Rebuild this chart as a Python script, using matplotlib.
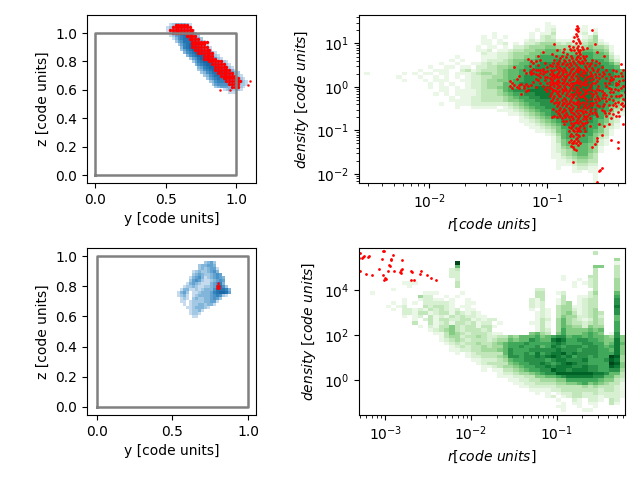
import numpy as np
import matplotlib
matplotlib.use('Agg')
import matplotlib.pyplot as plt
from matplotlib.colors import LinearSegmentedColormap

# histogram cell levels, rows from top to bottom, '.' = empty
top_hist = [
"..... ..... ..... ..... ..... ..... ..... ..... ..... .....",
"..... ..... ..... ..... ..... ..... ..... ..... ..... .....",
"..... ..... ..... ..... ..... ..... ..... 1.... ..... .....",
"..... ..... ..... ..... ..... ..... ..... 11... ..1.. .....",
"..... ..... ..... ..... ..... ..... ...1. 12... .11.1 .....",
"..... ..... ..... ..... ..... 1.... ..1.1 13... .12.2 .....",
"..... ..... ..... ..... ...1. 1.1.. ..1.2 32... 1.124 .....",
"..... ..... ..... ..... ...11 .1... .1212 33111 11234 1....",
"..... ..... ..... ..... ...11 .12.1 .2234 44323 22344 21...",
"..... ..... ..... ..... ..1.1 1.1.2 23444 55444 43454 431..",
"..... ..... ..... ..... ..112 .1123 34455 66655 55665 541..",
"..... ..... ..... ..... ...21 12234 44556 66666 66776 652..",
"..... ..... ..... ...1. ...11 12234 45567 77777 77776 6631.",
"..... ..... ..... ..1.1 ...12 22345 56677 77877 77777 7642.",
"..... ..... ..... 1..1. .1123 23345 66778 88888 88888 7764.",
"..... ..... ...1. .11.1 1.223 34456 67788 88888 88888 8776.",
"..... ..... .1..1 11..2 31233 34566 77888 88888 89888 88876",
".1... ...1. 1.11. 11.11 12344 34566 77888 88888 89988 88877",
"..... ..1.. .1..1 .1.1. 12233 44566 78888 88888 89998 88877",
"..... ...1. ..1.1 11..1 12234 45567 78888 88888 89998 88877",
"..... ..... ...1. 1.1.. 12234 44667 88888 88888 99998 88877",
"..... ..... ...1. 11.1. 12234 45677 78899 98888 99998 88777",
"..... ..... ..... 11.11 11233 34678 88999 98888 99998 87777",
"..... ..... ....1 .1.11 11233 34567 78899 98888 99998 87776",
"..... ..... ..... ..1.1 12233 33456 77889 98888 89998 87776",
"..... ..... ..... ..111 12233 33455 67788 88888 89998 87765",
"..... ..... ..... 1..11 12222 22234 56778 88888 89998 87754",
"..... ..... ..... ...1. .1111 1.123 45677 88888 89998 87543",
"..... ..... ..... ..... ..... .1112 34567 78888 88888 77532",
"..... ..... ..... ..... ..... ...11 23456 78888 88888 76421",
"..... ..... ..... ..... ..... ..... 12345 67888 88887 7542.",
"..... ..... ..... ..... ..... ..... 11234 56788 88887 6532.",
"..... ..... ..... ..... ..... ..... .1123 45678 88877 6431.",
"..... ..... ..... ..... ..... ..... ..112 34577 88877 5321.",
"..... ..... ..... ..... ..... ..... ...11 23567 78876 531..",
"..... ..... ..... ..... ..... ..... ..... 12467 77775 431..",
"..... ..... ..... ..... ..... ..... ..... .1367 77765 32...",
"..... ..... ..... ..... ..... ..... ..... .1356 67765 21...",
"..... ..... ..... ..... ..... ..... ..... .1256 66655 21...",
"..... ..... ..... ..... ..... ..... ..... .1245 66654 1....",
"..... ..... ..... ..... ..... ..... ..... .1234 56654 1....",
"..... ..... ..... ..... ..... ..... ..... .1134 56643 .....",
"..... ..... ..... ..... ..... ..... ..... .1123 45543 .....",
"..... ..... ..... ..... ..... ..... ..... ..112 34433 .....",
"..... ..... ..... ..... ..... ..... ..... ..111 23322 .....",
"..... ..... ..... ..... ..... ..... ..... ..1.. 12211 .....",
"..... ..... ..... ..... ..... ..... ..... ..... 11.11 .....",
"..... ..... ..... ..... ..... ..... ..... ..... ....1 .....",
"..... ..... ..... ..... ..... ..... ..... ..... ....1 .....",
"..... ..... ..... ..... ..... ..... ..... ..... ....1 .....",
]

bottom_hist = [
"..... ..... ..... ..... ..... ..... ..... ..... ..... .....",
"..... ..... ..... ..... ..... ..... ..... ..... ....3 .....",
"..... ..... ..... ..... ..... ..... ..... ..... ..... .....",
"..... ..... ..... ..... ..... ..... ..... ..... ..... ...4.",
"..... ..... ..... ...c. ..... ..... ..... ..... ..... ...1.",
"..... ..... ..... ...6. ..... ..... ..... ..... ....5 5..3.",
"..... ..... ..... ..23. ..... ..... ..... ..... ....3 ...3.",
"..... ..... ..... ..22. ..... ..... ..... ..... ....3 ...3.",
"..... ..... ..... ..22. ..... ..... ..... ...1. ...33 ...3.",
"..... ..... ..... ...2. ..... ..... ..... ...1. .1.23 ...4.",
"..... ...11 1.... ...3. ..... ..... ..... ..... 1.123 ...4.",
"..... ....1 ..... ...3. ..... ..... ..... ..... 1..23 ...4.",
"..... .1... ..... ..... ..... ..... ...22 ..... ....3 ...4.",
"..1.. ..... ..111 ....1 ..... ..... ...33 ..12. ...24 ...6.",
"..... ..... .422. .1.1. ..... ..... ...33 ...3. .1123 ...7.",
"..... ...1. .1221 1.1.. 1.... ..... ..213 ..13. .1233 ...8.",
"..... .1.1. 1.222 221.. 11... ..... ..212 ..134 .1233 ...8.",
"..... 1.12. ..323 321.1 1.... ..... ..212 ..344 11233 ...9.",
"..... .1.22 12132 3212. 11... ..... ..1.2 1.344 21234 ...8.",
"..... ...22 13312 33132 121.. ..... ...12 1.345 31234 3..8.",
"..... ...1. 12.31 21323 2211. ..... ...12 1.354 42234 2..6.",
"..... ..... 1.231 33223 31212 2.... ...13 2.464 32124 3..6.",
"..... ..... 3..31 23133 23122 .1... ..113 1.464 33234 3..7.",
"..... ..... .1.21 33532 33133 1.... ...13 1.465 44254 4..7.",
"..... ..... ...12 34532 33323 ..... ...13 2.475 55565 6..7.",
"..... ..... ....1 13543 23332 11... ..564 3.575 55676 5.18.",
"..... ..... ..... 13442 33432 23354 66675 67886 77676 65485",
"..... ..... ..... 12343 23332 34465 66876 69a97 78877 65595",
"..... ..... ..... .1232 33433 45677 78777 78987 77887 75696",
"..... ..... ..... ..123 23343 44677 87786 79878 88788 76795",
"..... ..... ..... ..112 23344 45687 77888 88988 87888 77695",
"..... ..... ..... ...1. 12333 33687 78797 899a8 98888 77795",
"..... ..... ..... ..... 12233 34588 78898 9a989 78878 77ba4",
"..... ..... ..... ..... .1122 23467 78888 78998 88977 78a94",
"..... ..... ..... ..... ..123 33356 77889 8789a 98877 77ba5",
"..... ..... ..... ..... ...11 23445 67788 98999 88988 77a95",
"..... ..... ..... ..... ...1. 11334 56778 8a998 99988 77884",
"..... ..... ..... ..... ..... .1223 44567 88aaa aaaa9 98663",
"..... ..... ..... ..... ..... .1112 23355 66789 99998 86643",
"..... ..... ..... ..... ..... ...11 22334 44557 77777 65532",
"..... ..... ..... ..... ..... ....1 12233 33445 56756 54331",
"..... ..... ..... ..... ..... ..... 11222 22333 33434 33321",
"..... ..... ..... ..... ..... ..... ..111 12233 33333 23321",
"..... ..... ..... ..... ..... ..... ...1. 1.122 33223 22221",
"..... ..... ..... ..... ..... ..... ..... 12.12 33222 12221",
"..... ..... ..... ..... ..... ..... ..... ..1.. 21.22 1.32.",
"..... ..... ..... ..... ..... ..... ..... ...1. 11.11 ..31.",
"..... ..... ..... ..... ..... ..... ..... ..11. .1..1 .....",
"..... ..... ..... ..... ..... ..... ..... ...1. ..11. .....",
"..... ..... ..... ..... ..... ..... ..... ..... ..... .....",
]

# projected gas map, top panel: z from 1.06 down in steps of 0.02
top_map = [
"..123 33321 ..... ..... ..... .....",
".1234 44332 ..... ..... ..... .....",
".1245 55443 1.... ..... ..... .....",
"..134 56654 32... ..... ..... .....",
"..124 56765 432.. ..... ..... .....",
"...13 56776 5432. ..... ..... .....",
"....2 45777 66431 ..... ..... .....",
"..... 24678 77542 1.... ..... .....",
"..... .3678 88653 21... ..... .....",
"..... .2467 88764 32... ..... .....",
"..... ..356 78876 5321. ..... .....",
"..... ...35 67887 65321 ..... .....",
"..... ....2 45788 76542 1.... .....",
"..... ..... 24678 87654 321.. .....",
"..... ..... .3567 88765 4321. .....",
"..... ..... ..346 78876 54321 .....",
"..... ..... ..235 67887 76543 1....",
"..... ..... ...23 56778 76654 32...",
"..... ..... ....2 35677 76654 321..",
"..... ..... ..... 24567 66554 4321.",
"..... ..... ..... .2356 66554 43321",
"..... ..... ..... ..245 55544 33221",
"..... ..... ..... ...23 44433 3321.",
"..... ..... ..... ..... .1232 221..",
"..... ..... ..... ..... ...11 1....",
]

top_red_map = [
"...## ###.. ..... ..... ..... .....",
"..### ####. ..... ..... ..... .....",
".#### ##### ..... ..... ..... .....",
"..### ##### ..... ..... ..... .....",
"..... ..### #.... ..... ..... .....",
"..... ...## ##... ..... ..... .....",
"..... ....# ##### ..... ..... .....",
"..... ....# ####. ..... ..... .....",
"..... ....# ##### ..... ..... .....",
"..... ..... ##### #.... ..... .....",
"..... ..... .#### ##... ..... .....",
"..... ..... ...## ##... ..... .....",
"..... ..... ...## ###.. ..... .....",
"..... ..... ..... ##### ..... .....",
"..... ..... ..... .#### #.... .....",
"..... ..... ..... ..### ##... .....",
"..... ..... ..... ..### ###.. .....",
"..... ..... ..... ...## ####. .....",
"..... ..... ..... ....# ##### .....",
"..... ..... ..... ..... ##### #....",
"..... ..... ..... ..... .#### ##...",
"..... ..... ..... ..... ..### #....",
"..... ..... ..... ..... ...## #....",
"..... ..... ..... ..... ..... .....",
"..... ..... ..... ..... ..... .....",
]
top_stray_y = [0.887, 0.957, 1.097, 1.085]
top_stray_z = [0.60, 0.60, 0.664, 0.633]

# bottom panel: z from 0.96 down in steps of 0.02
bottom_map = [
"..... ....2 342.. ...",
"..... ..233 443.. ...",
"..... ..232 3441. ...",
"..... 12322 3453. ...",
"..... 23432 23454 ...",
"....1 34531 23454 3..",
"....2 45421 12345 4..",
"...13 43211 13456 3..",
"..122 32112 23467 52.",
".1331 12123 33577 763",
"1342. 11233 34678 874",
"1231. 12333 34565 21.",
".121. 23223 34542 ...",
".11.1 22223 3441. ...",
"..1.1 22332 331.. ...",
"...11 23332 1.... ...",
"....1 2231. ..... ...",
"....1 221.. ..... ...",
"..... 11... ..... ...",
]
bottom_red_y = [0.795, 0.80, 0.805, 0.795, 0.80, 0.805, 0.80, 0.80]
bottom_red_z = [0.79, 0.79, 0.79, 0.80, 0.80, 0.80, 0.81, 0.82]

# red particles of the top right panel: log10(r) and the log10(density) values at it
top_red_columns = [
(-1.32, [0.13, 0.02]),
(-1.30, [-0.02, 0.10]),
(-1.28, [0.46, 0.05]),
(-1.26, [0.18, 0.0]),
(-1.24, [0.26, 0.04, -0.02]),
(-1.22, [0.07, -0.16]),
(-1.20, [0.01, -0.03, 0.38]),
(-1.18, [-0.10, 0.33, 0.07]),
(-1.16, [0.65, 0.01, -0.07]),
(-1.15, [0.34, 0.48]),
(-1.14, [0.60, 0.29, 0.05, 0.36]),
(-1.12, [0.56, 0.41, 0.12, 0.33]),
(-1.10, [0.60, 0.18, 0.30, 0.38, 0.00]),
(-1.08, [0.72, 0.50, 0.40, 0.15, 0.28]),
(-1.06, [0.62, 0.32, 0.40, 0.22, 0.10]),
(-1.04, [0.80, 0.42, 0.30, 0.36, 0.02]),
(-1.02, [0.55, 0.35, 0.22, 0.15, -0.05]),
(-1.00, [0.45, 0.36, 0.22, 0.10, 0.00, -0.10]),
(-0.98, [0.50, 0.30, 0.20, 0.12, 0.05, -0.02, -0.20]),
(-0.97, [0.40, 0.18, -0.02, -0.16, -0.32]),
(-0.96, [0.75, 0.48, 0.35, 0.26, 0.16, 0.07, -0.05, -0.12, -0.30, -0.70]),
(-0.95, [0.55, 0.30, 0.12, -0.06, -0.25, -0.50]),
(-0.94, [0.99, 0.62, 0.40, 0.28, 0.20, 0.10, 0.03, -0.08, -0.20, -0.38, -0.68]),
(-0.93, [0.70, 0.48, 0.26, 0.10, -0.10, -0.34, -0.55]),
(-0.92, [0.84, 0.55, 0.42, 0.30, 0.22, 0.14, 0.06, -0.02, -0.15, -0.28, -0.45, -0.70]),
(-0.91, [0.52, 0.32, 0.17, 0.04, -0.16, -0.40, -0.60]),
(-0.90, [0.60, 0.46, 0.36, 0.22, 0.12, 0.00, -0.10, -0.22, -0.35, -0.52, -0.62]),
(-0.89, [0.66, 0.44, 0.26, 0.02, -0.20, -0.48, -0.66]),
(-0.88, [0.72, 0.52, 0.40, 0.30, 0.18, 0.08, -0.04, -0.15, -0.30, -0.42, -0.58, -0.72]),
(-0.87, [0.80, 0.56, 0.34, 0.10, -0.10, -0.38, -0.55, -0.78]),
(-0.86, [0.88, 0.62, 0.44, 0.26, 0.14, 0.02, -0.08, -0.25, -0.36, -0.50, -0.64, -0.85]),
(-0.85, [0.60, 0.40, 0.18, -0.02, -0.28, -0.54, -0.70]),
(-0.84, [0.68, 0.50, 0.35, 0.22, 0.06, -0.06, -0.18, -0.32, -0.44, -0.60, -0.78]),
(-0.83, [0.75, 0.52, 0.28, 0.10, -0.14, -0.40, -0.64]),
(-0.82, [0.95, 0.62, 0.45, 0.30, 0.15, 0.04, -0.10, -0.22, -0.38, -0.48, -0.70, -0.92, -1.02, -1.26]),
(-0.81, [0.88, 0.56, 0.34, 0.16, -0.04, -0.32, -0.52, -0.76, -1.12]),
(-0.80, [0.84, 0.72, 0.50, 0.38, 0.22, 0.10, 0.00, -0.16, -0.28, -0.42, -0.58, -0.66, -0.82, -0.95, -1.08, -1.22, -1.35]),
(-0.79, [0.66, 0.42, 0.26, 0.02, -0.24, -0.50, -0.70, -0.90, -1.30]),
(-0.78, [1.06, 0.92, 0.60, 0.44, 0.30, 0.18, 0.06, -0.06, -0.20, -0.34, -0.46, -0.60, -0.74, -0.88, -0.98, -1.12, -1.28, -1.38, -1.72]),
(-0.77, [1.14, 0.86, 0.56, 0.32, 0.08, -0.16, -0.36, -0.62, -0.84, -1.02, -1.24, -1.42]),
(-0.76, [1.34, 1.22, 1.02, 0.78, 0.64, 0.50, 0.36, 0.24, 0.12, 0.0, -0.12, -0.26, -0.40, -0.55, -0.68, -0.80, -0.94, -1.08, -1.20, -1.30, -1.45]),
(-0.75, [1.30, 1.40, 1.16, 0.90, 0.68, 0.42, 0.16, -0.08, -0.34, -0.52, -0.76, -1.02, -1.18]),
(-0.74, [1.36, 1.28, 1.10, 0.94, 0.84, 0.72, 0.60, 0.46, 0.34, 0.20, 0.08, -0.04, -0.18, -0.32, -0.46, -0.60, -0.72, -0.84, -0.98, -1.10, -1.24, -1.34]),
(-0.73, [1.05, 0.80, 0.58, 0.38, 0.10, -0.14, -0.42, -0.68, -0.94, -1.14]),
(-0.72, [1.00, 0.86, 0.76, 0.66, 0.54, 0.42, 0.28, 0.14, 0.02, -0.12, -0.24, -0.38, -0.52, -0.64, -0.78, -0.90, -1.02, -1.28]),
(-0.71, [0.92, 0.60, 0.32, 0.06, -0.22, -0.56, -0.82]),
(-0.70, [0.88, 0.70, 0.55, 0.40, 0.26, 0.10, -0.04, -0.20, -0.34, -0.48, -0.60, -0.74, -0.88, -1.10]),
(-0.69, [0.66, 0.36, 0.12, -0.16, -0.42, -0.66, -0.94]),
(-0.68, [0.62, 0.48, 0.32, 0.18, 0.04, -0.10, -0.26, -0.44, -0.56, -0.70, -0.82, -1.02]),
(-0.67, [0.72, 0.44, 0.14, -0.14, -0.38, -0.58, -0.74]),
(-0.66, [0.90, 0.55, 0.40, 0.22, 0.06, -0.08, -0.30, -0.48, -0.66, -0.80]),
(-0.65, [0.48, 0.24, -0.04, -0.44, -0.62]),
(-0.64, [0.52, 0.34, 0.16, 0.00, -0.14, -0.36, -0.55, -0.72, -0.90]),
(-0.63, [0.56, 0.30, 0.04, -0.28, -0.50]),
(-0.62, [1.32, 0.62, 0.44, 0.26, 0.10, -0.06, -0.22, -0.42, -0.60, -1.38]),
(-0.61, [0.40, 0.18, -0.16, -0.36]),
(-0.60, [0.98, 0.50, 0.30, 0.08, -0.10, -0.28, -0.50, -0.58, -1.32]),
(-0.59, [0.60, 0.22, -0.14, -0.34, -0.62]),
(-0.58, [0.80, 0.36, 0.14, -0.04, -0.20, -0.42, -0.66, -1.18, -1.25, -2.18]),
(-0.57, [0.42, 0.02, -0.26]),
(-0.56, [0.55, 0.30, 0.20, -0.08, -0.30, -0.45, -0.85, -1.93]),
(-0.55, [-1.90]),
(-0.54, [0.45, 0.25, -0.10, -0.25, -0.52, -1.10, -1.87]),
(-0.53, [0.34, -0.18, -0.44]),
(-0.52, [0.72, 0.30, -0.15, -0.40, -0.55, -0.90]),
(-0.51, [0.10, -0.26, -0.60]),
(-0.50, [0.38, 0.20, 0.02, -0.18, -0.32, -0.68]),
(-0.48, [0.30, 0.08, -0.02, -0.28, -0.42, -0.60, -0.85]),
(-0.47, [0.16, -0.12, -0.54]),
(-0.46, [0.22, 0.15, -0.05, -0.20, -0.50, -0.72, -1.22]),
(-0.44, [0.38, 0.18, -0.12, -0.30, -0.42, -0.62]),
(-0.43, [0.26, -0.04, -0.36]),
(-0.42, [0.36, 0.10, 0.04, -0.22, -0.45, -0.66]),
(-0.40, [0.25, 0.06, -0.08, -0.35, -0.58, -1.26, -1.40]),
(-0.39, [0.14, -0.22, -0.66]),
(-0.38, [0.52, 0.32, -0.02, -0.18, -0.40, -0.50]),
(-0.37, [0.26, -0.36]),
(-0.36, [0.40, 0.16, 0.02, -0.28, -0.45, -0.85]),
(-0.345, [-0.12, -0.30, -0.42, 0.01]),
]

bottom_red_r = [5.07e-4, 5.45e-4, 5.6e-4, 5.3e-4, 4.98e-4, 6.46e-4, 6.3e-4, 9.66e-4, 9.48e-4, 1.22e-3,
                9.16e-4, 1.17e-3, 1.15e-3, 1.57e-3, 1.11e-3, 1.13e-3, 5.07e-4, 5.96e-4, 7.0e-4, 8.45e-4,
                9.4e-4, 1.08e-3, 1.26e-3, 1.57e-3, 1.53e-3, 1.49e-3, 1.53e-3, 2.05e-3, 2.0e-3, 2.61e-3,
                2.55e-3, 3.08e-3, 3.42e-3, 3.92e-3, 9.93e-4, 9.66e-4, 1.02e-3, 2.0e-3, 2.17e-3]
bottom_red_d = [4.26e5, 3.03e5, 3.2e5, 2.8e5, 2.55e5, 3.36e5, 3.1e5, 5.6e5, 5.2e5, 3.6e5,
                2.39e5, 2.39e5, 2.2e5, 2.15e5, 1.29e5, 1.2e5, 7.0e4, 5.15e4, 4.64e4, 8.6e4,
                4.64e4, 7.0e4, 7.0e4, 8.6e4, 7.7e4, 6.1e4, 5.5e4, 6.5e4, 7.2e4, 7.2e4,
                5.15e4, 4.64e4, 3.4e4, 2.8e4, 3.4e4, 2.8e4, 3.1e4, 2.8e4, 2.8e4]


def levels(rows):
    # rows come top first, pcolormesh wants them bottom first
    out = [[np.nan if c == '.' else int(c, 16) for c in row.replace(' ', '')] for row in rows]
    return np.array(out[::-1], dtype=float)


gas_blue = LinearSegmentedColormap.from_list('gas', ['#c6dcee', '#6aa8d4', '#2a7db9', '#0f5c9a'])

fig = plt.figure(figsize=(6.4, 4.8))


def box(left, top, right, bottom):
    return [left / 640, 1 - bottom / 480, (right - left) / 640, (bottom - top) / 480]


# top left
ax1 = fig.add_axes(box(87, 15, 256, 183))
cells = levels(top_map)
ye = 0.485 + 0.02 * np.arange(cells.shape[1] + 1)
ze = 0.57 + 0.02 * np.arange(cells.shape[0] + 1)
ax1.pcolormesh(ye, ze, cells, cmap=gas_blue, vmin=1, vmax=9)
red = np.array([[c == '#' for c in row.replace(' ', '')] for row in top_red_map[::-1]])
rows, cols = np.nonzero(red)
ax1.scatter(0.51 + 0.02 * cols, ze[rows] + 0.01, s=6, color='red', linewidths=0)
ax1.scatter(top_stray_y, top_stray_z, s=2, color='red', linewidths=0.3)
ax1.plot([0, 1, 1, 0, 0], [0, 0, 1, 1, 0], color='gray', lw=1.8)
ax1.set_xlim(-0.057, 1.14)
ax1.set_ylim(-0.056, 1.127)
ax1.set_xticks([0, 0.5, 1])
ax1.set_xlabel('y [code units]')
ax1.set_ylabel('z [code units]')

# top right
ax2 = fig.add_axes(box(359, 15, 625, 183))
xe = np.logspace(-2.596, -0.342, 51)
de = np.logspace(-2.21, 1.654, 51)
ax2.pcolormesh(xe, de, levels(top_hist), cmap='Greens', vmin=0, vmax=11)
for logr, logd in top_red_columns:
    ax2.scatter(10.0 ** np.full(len(logd), logr), 10.0 ** np.array(logd), s=4, color='red', linewidths=0)
ax2.set_xscale('log')
ax2.set_yscale('log')
ax2.set_xlim(xe[0], xe[-1])
ax2.set_ylim(de[0], de[-1])
ax2.set_xlabel(r'$r [code\ units]$')
ax2.set_ylabel(r'$density\ [code\ units]$')

# bottom left
ax3 = fig.add_axes(box(87, 248, 256, 415))
cells = levels(bottom_map)
ye = 0.53 + 0.02 * np.arange(cells.shape[1] + 1)
ze = 0.59 + 0.02 * np.arange(cells.shape[0] + 1)
ax3.pcolormesh(ye, ze, cells, cmap=gas_blue, vmin=1, vmax=9)
ax3.scatter(bottom_red_y, bottom_red_z, s=2, color='red', linewidths=0.3)
ax3.plot([0, 1, 1, 0, 0], [0, 0, 1, 1, 0], color='gray', lw=1.8)
ax3.set_xlim(-0.066, 1.053)
ax3.set_ylim(-0.053, 1.053)
ax3.set_xticks([0, 0.5, 1])
ax3.set_xlabel('y [code units]')
ax3.set_ylabel('z [code units]')

# bottom right
ax4 = fig.add_axes(box(359, 248, 625, 415))
xe = np.logspace(-3.307, -0.202, 51)
de = np.logspace(-1.556, 5.87, 51)
ax4.pcolormesh(xe, de, levels(bottom_hist), cmap='Greens', vmin=0, vmax=11)
ax4.scatter(bottom_red_r, bottom_red_d, s=4, color='red', linewidths=0)
ax4.set_xscale('log')
ax4.set_yscale('log')
ax4.set_xlim(xe[0], xe[-1])
ax4.set_ylim(de[0], de[-1])
ax4.set_yticks([1, 100, 10000])
ax4.set_xlabel(r'$r [code\ units]$')
ax4.set_ylabel(r'$density\ [code\ units]$')

plt.savefig('out.png', dpi=100)
